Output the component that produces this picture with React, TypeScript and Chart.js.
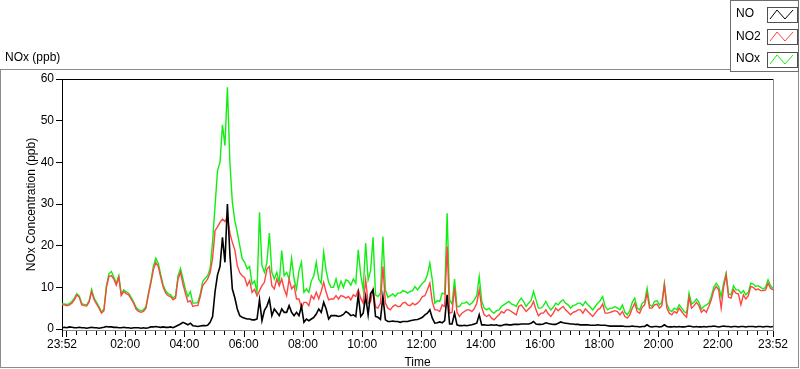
import React, { useEffect, useRef } from "react";
import { Chart, registerables } from "chart.js";
Chart.register(...registerables);

// ---- data (5-minute readings starting at 23:52) ----
const START_CLOCK = "23:52";
const STEP_MIN = 5;
const SPAN_MIN = 1440;
const SERIES_NAMES = ["NO", "NO2", "NOx"];
const SERIES_COLORS = ["#000000", "#ff4444", "#11ee11"];

const NO = [
  0.3, 0.4, 0.3, 0.5, 0.4, 0.3, 0.3, 0.4, 0.3, 0.3,
  0.2, 0.3, 0.4, 0.3, 0.3, 0.2, 0.3, 0.4, 0.6, 0.5,
  0.5, 0.4, 0.4, 0.3, 0.3, 0.4, 0.3, 0.3, 0.2, 0.3,
  0.3, 0.3, 0.2, 0.3, 0.2, 0.3, 0.5, 0.5, 0.6, 0.5,
  0.4, 0.5, 0.4, 0.4, 0.5, 0.3, 0.6, 0.9, 1.2, 1.6,
  1.3, 1.0, 1.4, 0.8, 0.7, 0.6, 0.7, 0.8, 0.8, 0.9,
  1.6, 3.0, 9.0, 13.0, 15.0, 22.0, 16.0, 30.0, 18.0, 9.6,
  7.5, 4.8, 3.2, 2.8, 2.6, 2.4, 2.4, 2.2, 2.2, 2.4,
  7.0, 2.0, 4.5, 5.5, 7.2, 3.2, 4.8, 4.0, 3.2, 4.8,
  4.0, 4.0, 5.6, 4.0, 3.2, 4.0, 3.2, 5.5, 1.6, 2.4,
  2.0, 2.4, 2.8, 3.6, 4.8, 4.0, 6.4, 4.8, 2.4, 3.2,
  3.2, 3.2, 3.0, 3.2, 3.5, 4.2, 3.8, 3.2, 3.4, 3.0,
  8.2, 3.0, 3.8, 7.8, 3.4, 8.5, 9.4, 3.0, 2.8, 2.3,
  7.8, 2.2, 1.8, 1.8, 1.9, 1.8, 1.8, 1.6, 1.8, 1.8,
  1.8, 2.0, 2.1, 2.2, 2.3, 2.5, 2.8, 3.4, 3.8, 4.6,
  2.6, 1.4, 1.5, 1.7, 1.5, 2.0, 8.2, 1.2, 1.2, 3.8,
  1.0, 0.8, 0.8, 0.9, 0.8, 0.9, 1.0, 1.2, 1.4, 3.4,
  1.0, 1.0, 0.9, 0.9, 1.0, 0.9, 1.0, 0.8, 0.8, 1.0,
  1.1, 1.0, 1.0, 1.1, 1.1, 1.1, 1.2, 1.2, 1.2, 1.2,
  1.4, 1.8, 1.2, 1.1, 1.1, 1.2, 1.5, 1.3, 1.2, 1.1,
  1.1, 1.4, 1.7, 1.5, 1.4, 1.3, 1.2, 1.2, 1.1, 1.1,
  1.0, 1.0, 1.0, 1.0, 0.9, 0.9, 0.9, 1.0, 0.9, 0.9,
  0.9, 0.8, 0.7, 0.7, 0.7, 0.7, 0.7, 0.7, 0.6, 0.6,
  0.6, 0.7, 0.6, 0.6, 0.5, 0.6, 0.6, 1.0, 0.6, 0.5,
  0.6, 0.6, 0.5, 0.6, 1.0, 0.6, 0.5, 0.5, 0.6, 0.5,
  0.6, 0.5, 0.5, 0.6, 0.7, 0.6, 0.5, 0.6, 0.5, 0.5,
  0.6, 0.5, 0.6, 0.6, 0.7, 0.6, 0.5, 0.6, 0.7, 0.6,
  0.6, 0.5, 0.6, 0.6, 0.5, 0.6, 0.6, 0.5, 0.6, 0.6,
  0.6, 0.5, 0.6, 0.6, 0.5, 0.6, 0.6, 0.5, 0.6,
];

const NO2 = [
  5.8, 5.8, 5.6, 5.8, 6.2, 7.0, 8.2, 7.6, 5.8, 5.6,
  5.5, 6.5, 9.0, 7.0, 6.0, 5.0, 3.8, 4.4, 10.0, 12.6,
  12.8, 12.0, 10.5, 12.4, 8.0, 9.0, 8.5, 8.2, 7.2, 6.2,
  4.8, 4.2, 4.0, 4.2, 5.0, 8.2, 11.0, 14.2, 16.0, 15.0,
  12.4, 10.0, 8.6, 8.0, 7.8, 7.0, 7.4, 12.0, 13.6, 10.8,
  8.5, 6.5, 6.8, 5.4, 5.6, 5.6, 7.8, 10.4, 11.2, 12.0,
  13.5, 17.0, 23.6, 24.5, 25.6, 26.4, 25.8, 27.0, 23.0, 20.8,
  19.0, 15.2, 13.5, 12.8, 12.3, 10.4, 11.6, 8.8, 9.5, 8.0,
  9.2, 10.4, 11.2, 14.4, 15.0, 10.4, 9.6, 12.0, 10.4, 12.0,
  9.6, 8.0, 12.0, 9.6, 10.4, 7.2, 7.2, 5.0, 6.4, 6.4,
  5.6, 8.0, 7.2, 8.8, 7.2, 9.0, 11.2, 8.8, 7.0, 7.2,
  7.2, 8.0, 7.2, 8.0, 7.8, 7.4, 7.8, 7.0, 8.2, 7.8,
  9.4, 7.4, 6.2, 11.8, 6.2, 6.6, 9.5, 5.3, 5.0, 6.2,
  15.0, 6.2, 5.0, 4.6, 5.4, 5.8, 5.4, 5.4, 6.2, 6.4,
  5.8, 5.6, 6.2, 5.8, 6.2, 6.8, 7.8, 8.0, 9.4, 11.0,
  6.5, 4.6, 4.6, 4.2, 5.8, 5.4, 19.8, 3.8, 4.0, 10.0,
  4.0, 3.0, 3.8, 4.2, 4.6, 4.6, 4.2, 4.9, 6.2, 9.4,
  5.2, 3.4, 3.0, 3.4, 2.6, 2.2, 2.8, 3.4, 4.2, 3.8,
  4.6, 4.6, 4.2, 3.8, 3.4, 5.4, 5.8, 5.0, 4.2, 4.8,
  5.4, 6.6, 4.6, 3.2, 3.8, 3.8, 4.6, 3.6, 3.0, 3.8,
  5.0, 4.4, 5.0, 5.4, 4.6, 4.0, 3.4, 4.0, 4.2, 4.6,
  4.6, 3.8, 4.8, 4.2, 3.6, 3.0, 3.8, 4.6, 5.0, 6.0,
  3.8, 3.8, 4.0, 4.2, 4.4, 4.2, 3.4, 4.2, 3.0, 2.6,
  3.4, 5.0, 6.2, 4.2, 3.8, 5.2, 5.8, 8.6, 5.0, 5.0,
  5.8, 6.0, 5.0, 5.6, 10.6, 5.0, 3.8, 3.4, 4.2, 3.8,
  5.0, 4.2, 3.4, 2.8, 7.6, 5.0, 5.6, 6.4, 5.6, 4.0,
  4.6, 4.0, 5.4, 7.0, 9.2, 10.2, 9.4, 5.0, 10.0, 13.0,
  7.6, 7.4, 9.4, 8.6, 8.4, 5.8, 8.2, 7.2, 8.0, 10.2,
  10.0, 9.4, 9.6, 9.2, 9.2, 9.4, 11.0, 9.8, 9.4,
];

const NOX = [
  6.0, 6.0, 5.9, 6.1, 6.6, 7.4, 8.5, 7.9, 6.1, 5.9,
  5.8, 6.8, 9.5, 7.4, 6.4, 5.3, 4.1, 4.8, 10.4, 13.2,
  13.8, 12.4, 11.0, 12.8, 8.4, 9.4, 8.9, 8.6, 7.6, 6.5,
  5.2, 4.6, 4.4, 4.6, 5.4, 8.6, 11.5, 15.0, 17.0, 15.8,
  13.0, 10.5, 9.1, 8.5, 8.2, 7.4, 8.0, 12.8, 14.5, 12.0,
  9.5, 7.8, 9.0, 6.2, 6.2, 6.4, 8.4, 11.4, 12.2, 12.8,
  14.5, 21.0, 29.6, 38.0, 40.0, 49.0, 44.0, 58.0, 40.0, 30.4,
  26.0, 23.2, 20.0, 16.8, 16.0, 14.4, 15.0, 10.8, 11.5, 8.8,
  28.0, 15.2, 13.6, 16.0, 23.0, 13.6, 12.0, 13.6, 11.2, 18.8,
  12.8, 13.6, 12.0, 17.0, 12.0, 9.6, 14.0, 16.0, 8.8, 9.6,
  8.8, 11.5, 12.8, 16.0, 12.0, 11.0, 18.4, 14.0, 11.2, 10.0,
  10.0, 12.0, 9.6, 11.5, 10.0, 11.8, 11.5, 10.5, 12.0, 11.0,
  19.0, 13.0, 9.4, 20.6, 11.8, 14.0, 22.0, 8.2, 7.8, 8.6,
  22.2, 9.4, 7.6, 8.0, 8.4, 7.8, 8.6, 8.6, 9.2, 9.0,
  8.6, 9.0, 9.2, 10.2, 9.4, 10.2, 11.0, 11.5, 13.0, 15.8,
  11.8, 6.2, 6.8, 6.6, 8.6, 8.4, 27.8, 7.0, 6.0, 12.0,
  5.4, 5.4, 6.2, 6.2, 6.5, 5.8, 6.2, 7.0, 8.0, 12.6,
  6.8, 5.0, 4.6, 5.0, 4.2, 3.8, 4.4, 4.6, 5.4, 5.8,
  6.2, 6.6, 6.0, 5.8, 5.4, 6.6, 7.4, 6.6, 5.4, 6.2,
  6.8, 9.0, 7.0, 5.0, 5.0, 5.6, 6.6, 5.4, 4.6, 5.2,
  6.2, 5.8, 6.6, 7.0, 6.2, 5.8, 5.0, 5.6, 5.8, 6.2,
  6.2, 5.6, 6.6, 5.8, 5.2, 4.6, 5.4, 6.2, 6.8, 7.8,
  5.4, 4.6, 5.0, 5.0, 5.4, 5.0, 4.6, 5.8, 4.0, 3.4,
  4.4, 6.4, 7.4, 5.0, 4.6, 6.2, 6.6, 9.8, 5.8, 5.4,
  6.6, 6.8, 5.8, 6.4, 11.0, 6.0, 4.6, 4.2, 5.0, 4.6,
  5.8, 5.0, 4.2, 3.8, 8.6, 6.0, 6.4, 7.2, 6.4, 4.8,
  5.4, 5.8, 6.2, 7.8, 10.0, 11.0, 10.2, 7.8, 11.0, 13.4,
  8.4, 8.2, 10.4, 9.4, 9.4, 8.6, 9.2, 8.2, 8.8, 11.0,
  10.8, 10.2, 10.4, 10.0, 9.6, 10.0, 11.8, 10.4, 9.8,
];

const Y_TICKS = [0, 10, 20, 30, 40, 50, 60];
const HEADER = "NOx (ppb)";
const Y_TITLE = "NOx Concentration (ppb)";
const X_TITLE = "Time";

const FONT_FAMILY = '"Liberation Sans", Arial, sans-serif';

// ---- time helpers ----
const START_MIN = (() => {
  const [h, m] = START_CLOCK.split(":").map(Number);
  return h * 60 + m;
})();
const pad2 = (n: number) => (n < 10 ? "0" + n : "" + n);
const clockOf = (t: number) => (START_MIN + t) % 1440;
const fmtClock = (t: number) => {
  const c = clockOf(t);
  return pad2(Math.floor(c / 60)) + ":" + pad2(c % 60);
};
const X_TICK_VALUES: number[] = (() => {
  const out = [0];
  let t = (20 - (START_MIN % 20)) % 20;
  if (t === 0) t = 20;
  for (; t < SPAN_MIN; t += 20) out.push(t);
  out.push(SPAN_MIN);
  return out;
})();
const isMajor = (t: number) => t === 0 || t === SPAN_MIN || clockOf(t) % 120 === 0;
const xLabel = (t: number) => {
  if (t === 0 || t === SPAN_MIN) return fmtClock(t);
  const c = clockOf(t);
  if (c % 120 === 0 && c !== 0) return fmtClock(t);
  return "";
};

const decorPlugin = {
  id: "decor",
  beforeDraw(chart: any) {
    const ctx = chart.ctx;
    ctx.save();
    ctx.fillStyle = "#ffffff";
    ctx.fillRect(0, 0, chart.width, chart.height);
    ctx.restore();
  },
  afterDraw(chart: any) {
    const ctx = chart.ctx;
    const { left, top, right, bottom } = chart.chartArea;
    ctx.save();
    ctx.lineWidth = 1;
    // outer panel
    ctx.strokeStyle = "#8c8c8c";
    ctx.strokeRect(0.5, 69.5, 798, 298);
    // header label
    ctx.fillStyle = "#000";
    ctx.font = "12px " + FONT_FAMILY;
    ctx.textBaseline = "middle";
    ctx.textAlign = "left";
    ctx.fillText(HEADER, 5, 58);
    // plot frame
    ctx.strokeStyle = "#000";
    ctx.beginPath();
    ctx.moveTo(left, top + 0.5);
    ctx.lineTo(right + 1, top + 0.5);
    ctx.stroke();
    ctx.strokeStyle = "#8c8c8c";
    ctx.beginPath();
    ctx.moveTo(right + 0.5, top);
    ctx.lineTo(right + 0.5, bottom + 1);
    ctx.stroke();
    // x tick marks
    const xs = chart.scales.x;
    ctx.strokeStyle = "#000";
    ctx.beginPath();
    for (const t of X_TICK_VALUES) {
      const px = Math.round(xs.getPixelForValue(t)) + 0.5;
      const len = isMajor(t) ? 6 : 4;
      ctx.moveTo(px, bottom + 1);
      ctx.lineTo(px, bottom + 1 + len);
    }
    ctx.stroke();
    // legend
    const lx = 730, lw = 69, lh = 72;
    ctx.fillStyle = "#fff";
    ctx.fillRect(lx, 0, lw, lh);
    ctx.strokeStyle = "#6e6e6e";
    ctx.strokeRect(lx + 0.5, 0.5, lw - 1, lh - 1);
    const rows = [14, 36.5, 59];
    chart.data.datasets.forEach((ds: any, i: number) => {
      const c = rows[i];
      ctx.fillStyle = "#000";
      ctx.font = "12px " + FONT_FAMILY;
      ctx.textBaseline = "middle";
      ctx.fillText(ds.label, 736, c);
      const sx = 767, sw = 30, sh = 15;
      const sy = Math.round(c - sh / 2);
      ctx.fillStyle = "#fff";
      ctx.fillRect(sx, sy, sw, sh);
      ctx.strokeStyle = "#505050";
      ctx.strokeRect(sx + 0.5, sy + 0.5, sw, sh);
      ctx.strokeStyle = ds.borderColor;
      ctx.beginPath();
      ctx.moveTo(sx + 3, sy + sh - 3);
      ctx.lineTo(sx + 10, sy + 3);
      ctx.lineTo(sx + 18, sy + sh - 3);
      ctx.lineTo(sx + 26, sy + 3);
      ctx.stroke();
    });
    ctx.restore();
  },
};

export default function App() {
  const ref = useRef<HTMLCanvasElement | null>(null);
  useEffect(() => {
    if (!ref.current) return;
    const series = [NO, NO2, NOX];
    const datasets = series.map((arr, k) => ({
      label: SERIES_NAMES[k],
      data: arr.map((v, i) => ({ x: i * STEP_MIN, y: v })),
      borderColor: SERIES_COLORS[k],
      backgroundColor: SERIES_COLORS[k],
      borderWidth: k === 0 ? 1.6 : 1.4,
      pointRadius: 0,
      tension: 0,
      fill: false,
    }));
    const font = { family: FONT_FAMILY, size: 12 };
    const chart = new Chart(ref.current, {
      type: "line",
      data: { datasets },
      options: {
        animation: false,
        responsive: false,
        events: [],
        layout: { padding: { top: 79, right: 27, left: 0, bottom: 0 } },
        plugins: { legend: { display: false }, tooltip: { enabled: false } },
        scales: {
          x: {
            type: "linear",
            min: 0,
            max: SPAN_MIN,
            afterBuildTicks: (s: any) => {
              s.ticks = X_TICK_VALUES.map((v) => ({ value: v }));
            },
            afterFit: (s: any) => {
              s.height = 39;
            },
            ticks: {
              autoSkip: false,
              maxRotation: 0,
              color: "#000",
              font,
              padding: 1,
              callback: (v: any) => xLabel(Number(v)),
            },
            grid: { drawOnChartArea: false, tickLength: 6, tickColor: "rgba(0,0,0,0)" },
            border: { color: "#8c8c8c" },
            title: { display: true, text: X_TITLE, color: "#000", font, padding: { top: 0, bottom: -1 } },
          },
          y: {
            min: -0.24,
            max: 60,
            afterBuildTicks: (s: any) => {
              s.ticks = Y_TICKS.map((v) => ({ value: v }));
            },
            afterFit: (s: any) => {
              s.width = 62;
            },
            ticks: { color: "#000", font, padding: 2 },
            grid: { drawOnChartArea: false, tickLength: 6, tickColor: "#000" },
            border: { color: "#000" },
            title: { display: true, text: Y_TITLE, color: "#000", font, padding: { top: 24, bottom: 0 } },
          },
        },
      },
      plugins: [decorPlugin],
    } as any);
    return () => chart.destroy();
  }, []);
  return (
    <canvas
      ref={ref}
      width={800}
      height={369}
      style={{ position: "fixed", left: 0, top: 0, width: 800, height: 369, display: "block" }}
    />
  );
}
